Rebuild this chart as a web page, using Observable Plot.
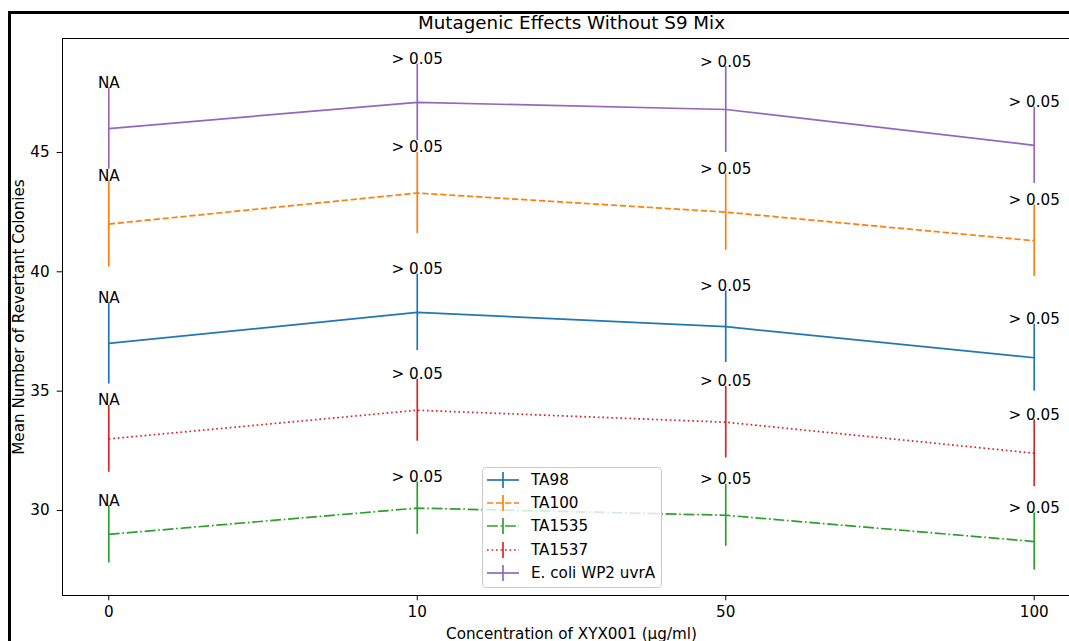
<!DOCTYPE html>
<html>
<head>
<meta charset="utf-8">
<script src="https://cdn.jsdelivr.net/npm/d3@7"></script>
<script src="https://cdn.jsdelivr.net/npm/@observablehq/plot@0.6"></script>
<style>
  html, body { margin: 0; padding: 0; background: #fff; overflow: hidden; }
  #wrap { position: relative; width: 1069px; height: 641px; font-family: "DejaVu Sans", sans-serif; }
  #border { position: absolute; left: 8px; top: 11px; width: 1200px; height: 800px; border-left: 3px solid #000; border-top: 3px solid #000; pointer-events: none; }
  #chart { position: absolute; left: 0; top: 0; }
  #legend { position: absolute; left: 482px; top: 467px; width: 180px; height: 121px; border: 1px solid #cccccc; border-radius: 4px; background: rgba(255,255,255,0.8); box-sizing: border-box; }
  .row { position: absolute; left: 0; height: 20px; display: flex; align-items: center; font-size: 15.2px; color: #000; white-space: nowrap; }
  .row svg { display: block; margin-left: 4px; margin-right: 12px; }
</style>
</head>
<body>
<div id="wrap">
  <div id="chart"></div>
  <div id="border"></div>
  <div id="legend"></div>
</div>
<script>
const concentrations = ["0", "10", "50", "100"];
const seriesNames = ["TA98", "TA100", "TA1535", "TA1537", "E. coli WP2 uvrA"];
const seriesColors = ["#1f77b4", "#ff7f0e", "#2ca02c", "#d62728", "#9467bd"];
const seriesDash = ["none", "6.3,2.7", "10.9,2.7,1.7,2.7", "1.7,2.8", "none"];
const meansTA98 = [37.0, 38.3, 37.7, 36.4];
const errTA98 = [1.7, 1.6, 1.5, 1.4];
const meansTA100 = [42.0, 43.3, 42.5, 41.3];
const errTA100 = [1.8, 1.7, 1.6, 1.5];
const meansTA1535 = [29.0, 30.1, 29.8, 28.7];
const errTA1535 = [1.2, 1.1, 1.3, 1.2];
const meansTA1537 = [33.0, 34.2, 33.7, 32.4];
const errTA1537 = [1.4, 1.3, 1.5, 1.4];
const meansEcoli = [46.0, 47.1, 46.8, 45.3];
const errEcoli = [1.7, 1.6, 1.8, 1.6];
const pLabels = ["NA", "> 0.05", "> 0.05", "> 0.05"];
const yTicks = [30, 35, 40, 45];

const allMeans = [meansTA98, meansTA100, meansTA1535, meansTA1537, meansEcoli];
const allErrs = [errTA98, errTA100, errTA1535, errTA1537, errEcoli];

const rows = [];
seriesNames.forEach((s, k) => {
  concentrations.forEach((c, i) => {
    rows.push({series: s, k, i, value: allMeans[k][i], err: allErrs[k][i], label: pLabels[i]});
  });
});

const FS = 15.2;
const LW = 1.7;
const marks = [
  Plot.frame({stroke: "#000", strokeWidth: 1}),
  Plot.axisY({ticks: yTicks, tickSize: 5.3, tickPadding: 7.5, fontSize: FS, label: null}),
  Plot.axisX({ticks: [0, 1, 2, 3], tickFormat: i => concentrations[i], tickSize: 5.3, tickPadding: 5, fontSize: FS, label: null})
];
seriesNames.forEach((s, k) => {
  const d = rows.filter(r => r.k === k);
  marks.push(Plot.line(d, {x: "i", y: "value", stroke: seriesColors[k], strokeWidth: LW, strokeDasharray: seriesDash[k] === "none" ? undefined : seriesDash[k], strokeLinecap: "butt"}));
  marks.push(Plot.ruleX(d, {x: "i", y1: r => r.value - r.err, y2: r => r.value + r.err, stroke: seriesColors[k], strokeWidth: LW}));
});
marks.push(Plot.text(rows, {x: "i", y: r => r.value + r.err, text: "label", lineAnchor: "bottom", textAnchor: "middle", fontSize: FS, fill: "#000"}));
marks.push(Plot.text(["Mutagenic Effects Without S9 Mix"], {frameAnchor: "top", dy: -10, lineAnchor: "bottom", fontSize: 18.3, fill: "#000"}));
marks.push(Plot.text(["Concentration of XYX001 (µg/ml)"], {frameAnchor: "bottom", dy: 43, lineAnchor: "bottom", fontSize: FS, fill: "#000"}));
marks.push(Plot.text(["Mean Number of Revertant Colonies"], {frameAnchor: "left", dx: -39, rotate: -90, lineAnchor: "bottom", textAnchor: "middle", fontSize: FS, fill: "#000"}));

const chart = Plot.plot({
  width: 1069,
  height: 641,
  marginLeft: 62,
  marginTop: 38,
  marginBottom: 46,
  marginRight: -11,
  x: {type: "linear", domain: [-0.15, 3.15]},
  y: {type: "linear", domain: [26.439, 49.774]},
  style: {fontFamily: "DejaVu Sans, sans-serif", color: "#000", background: "transparent", overflow: "hidden"},
  marks
});
document.getElementById("chart").appendChild(chart);

// legend
const legend = document.getElementById("legend");
const rowTops = [2, 25, 48, 72, 95];
seriesNames.forEach((s, k) => {
  const div = document.createElement("div");
  div.className = "row";
  div.style.top = rowTops[k] + "px";
  const svg = d3.create("svg").attr("width", 32).attr("height", 20);
  svg.append("line").attr("x1", 0).attr("x2", 32).attr("y1", 10).attr("y2", 10)
    .attr("stroke", seriesColors[k]).attr("stroke-width", LW)
    .attr("stroke-dasharray", seriesDash[k] === "none" ? null : seriesDash[k]);
  svg.append("line").attr("x1", 16).attr("x2", 16).attr("y1", 2).attr("y2", 18)
    .attr("stroke", seriesColors[k]).attr("stroke-width", LW);
  div.appendChild(svg.node());
  const span = document.createElement("span");
  span.textContent = s;
  div.appendChild(span);
  legend.appendChild(div);
});
</script>
</body>
</html>
